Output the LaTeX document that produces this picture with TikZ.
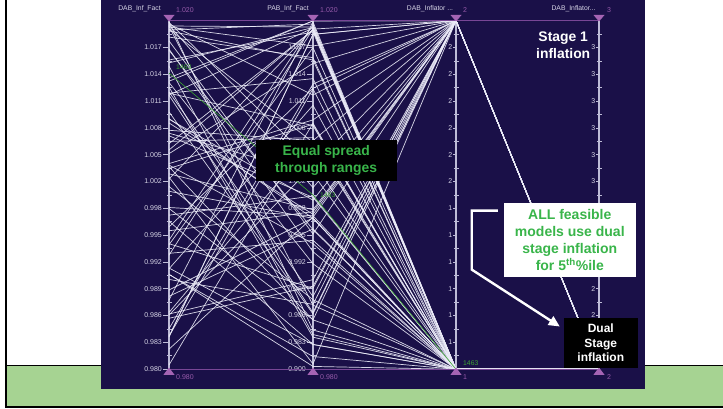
\documentclass[tikz,border=0pt]{standalone}
\usepackage{fontspec}
\setmainfont{Liberation Sans}
\usetikzlibrary{arrows.meta}

\definecolor{navy}{RGB}{26,16,72}
\definecolor{bandgreen}{RGB}{166,211,146}
\definecolor{notegreen}{RGB}{57,181,74}
\definecolor{axisgrey}{RGB}{190,188,215}
\definecolor{ticktext}{RGB}{215,213,230}
\definecolor{markpurple}{RGB}{165,100,180}
\definecolor{rulepurple}{RGB}{120,70,150}
\definecolor{valuepurple}{RGB}{150,90,170}
\definecolor{recordline}{RGB}{235,235,248}
\definecolor{pickgreen}{RGB}{60,165,50}

\tikzset{
  axisline/.style={axisgrey, line width=1.4pt},
  tickmark/.style={axisgrey, line width=0.7pt},
  ticklabel/.style={ticktext, inner sep=0pt, font=\fontsize{7}{8}\selectfont},
  axisname/.style={ticktext, inner sep=0pt, font=\fontsize{6.8}{8}\selectfont},
  rangelabel/.style={valuepurple, inner sep=0pt, anchor=west, font=\fontsize{7}{8}\selectfont},
  record/.style={recordline, line width=0.7pt, opacity=0.9},
  picked/.style={pickgreen, line width=0.6pt},
  pickedlabel/.style={pickgreen, inner sep=0pt, anchor=west, font=\fontsize{6.8}{8}\selectfont},
  rangeline/.style={rulepurple, line width=1.2pt},
  marker/.style={fill=markpurple, draw=none},
  blacknote/.style={fill=black, inner sep=0pt, align=center, font=\bfseries},
  whitenote/.style={fill=white, inner sep=0pt, align=center, font=\bfseries},
  pointer/.style={white, line width=2.4pt, -{Triangle[length=11pt,width=10pt]}},
}

\begin{document}
\begin{tikzpicture}[x=1pt,y=-1pt]
\useasboundingbox (0,0) rectangle (723,409);
\fill[white] (0,0) rectangle (723,409);

% green footer band
\fill[bandgreen] (6,365) rectangle (723,407);
\draw[black, line width=1pt] (6,365) -- (723,365);
\draw[black, line width=2pt] (5,407.3) -- (723,407.3);
\draw[black, line width=2pt] (6,0) -- (6,408);

% dark plotting panel
\fill[navy] (101,0) rectangle (645,388.5);

% axis geometry: top 20.7, bottom 369.3, 13 equal steps
\def\ytop{20.7}
\def\ybot{369.3}
\def\ystep{26.8}

% vertical axes
\foreach \ax in {169,313,456,599}{
  \draw[axisline] (\ax,\ytop) -- (\ax,\ybot);
  \foreach \k in {0,...,12}{
    \draw[tickmark] (\ax-2.5,\ytop+\k*\ystep+13.4) -- (\ax+2.5,\ytop+\k*\ystep+13.4);
  }
}

% major ticks with labels (an empty entry draws the tick only)
\foreach \ax/\tl/\gap/\labs in {
  169/6/7/{1.017,1.014,1.011,1.008,1.005,1.002,0.998,0.995,0.992,0.989,0.986,0.983,0.980},
  313/6/7/{1.017,1.014,1.011,1.008,,1.002,0.998,0.995,0.992,0.989,0.986,0.983,0.900},
  456/3/3.5/{2,2,2,2,2,2,1,1,1,1,1,1},
  599/3/3.5/{3,3,3,3,3,3,,,,2,2,}}{
  \foreach \lab [count=\k] in \labs {
    \draw[tickmark] (\ax-\tl,\ytop+\k*\ystep) -- (\ax+1,\ytop+\k*\ystep);
    \node[ticklabel, anchor=east] at (\ax-\gap,\ytop+\k*\ystep) {\lab};
  }
}

% axis titles
\node[axisname] (n1) at (139.5,8.5) {DAB\_Inf\_Fact};
\node[axisname] (n2) at (288,8.5) {PAB\_Inf\_Fact};
\node[axisname] (n3) at (430,8.5) {DAB\_Inflator ...};
\node[axisname] (n4) at (573.5,8.5) {DAB\_Inflator...};

% records
\pgfmathsetseed{4242}
\foreach \i in {1,...,64}{
  \pgfmathsetmacro\ya{\ytop+348.6*rnd}
  \pgfmathsetmacro\yb{\ytop+348.6*rnd}
  \pgfmathsetmacro\yc{rnd<0.45 ? \ytop : \ybot}
  \draw[record] (169,\ya) -- (313,\yb) -- (456,\yc) -- (599,\ybot);
}
% records close to the top of the second axis
\foreach \ya/\yb in {30/24,26/27,150/30,240/25,300/22,95/28,60/32}{
  \draw[record] (169,\ya) -- (313,\yb) -- (456,\ybot);
}
% records along the top of the first axis
\foreach \ya/\yb/\yc in {24/95/20.7,27/46/20.7,31/60/369.3,22/330/369.3}{
  \draw[record] (169,\ya) -- (313,\yb) -- (456,\yc);
}

% highlighted record
\draw[picked] (169,73) -- (313,195) -- (456,\ybot);
\node[pickedlabel] (p1) at (176,67) {1463};
\node[pickedlabel] (p2) at (320,195) {1463};
\node[pickedlabel] (p3) at (463,363) {1463};

% range rules and markers
\draw[rangeline] (169,\ytop) -- (599,\ytop);
\draw[rangeline] (169,\ybot) -- (599,\ybot);
\foreach \ax in {169,313,456,599}{
  \fill[marker] (\ax-5.5,15) -- (\ax+5.5,15) -- (\ax,21.5) -- cycle;
  \fill[marker] (\ax-5.5,374.8) -- (\ax+5.5,374.8) -- (\ax,367.5) -- cycle;
}

% range values
\node[rangelabel] (v1) at (176,10) {1.020};
\node[rangelabel] (v2) at (320,10) {1.020};
\node[rangelabel] (v3) at (463,10) {2};
\node[rangelabel] (v4) at (607,10) {3};
\node[rangelabel] (w1) at (176,377) {0.980};
\node[rangelabel] (w2) at (320,377) {0.980};
\node[rangelabel] (w3) at (463,377) {1};
\node[rangelabel] (w4) at (607,377) {2};

% annotations
\node[blacknote, minimum width=141pt, minimum height=40.7pt,
      text=notegreen, font=\bfseries\fontsize{13.9}{16.6}\selectfont]
  (spread) at (326.2,160.3) {Equal spread\\through ranges};

\node[white, inner sep=0pt, align=center,
      font=\bfseries\fontsize{13.9}{16.6}\selectfont]
  (stage) at (563.2,45) {Stage 1\\inflation};

\node[whitenote, minimum width=131.7pt, minimum height=73.4pt,
      text=notegreen, font=\bfseries\fontsize{14}{16.9}\selectfont]
  (feasible) at (569.8,240) {ALL feasible\\models use dual\\stage inflation\\for 5\textsuperscript{th}\%ile};

\node[blacknote, minimum width=73.7pt, minimum height=50.6pt,
      text=white, font=\bfseries\fontsize{12}{14.5}\selectfont]
  (dual) at (600.8,343) {Dual\\Stage\\inflation};

% pointer from the note to the dual-stage label
\coordinate (pstart) at ([xshift=-6pt,yshift=-7.5pt]feasible.north west);
\draw[pointer] (pstart) -- ++(-26,0) -- ++(0,59) -- ([xshift=-4pt,yshift=-9pt]dual.north west);
\end{tikzpicture}
\end{document}
